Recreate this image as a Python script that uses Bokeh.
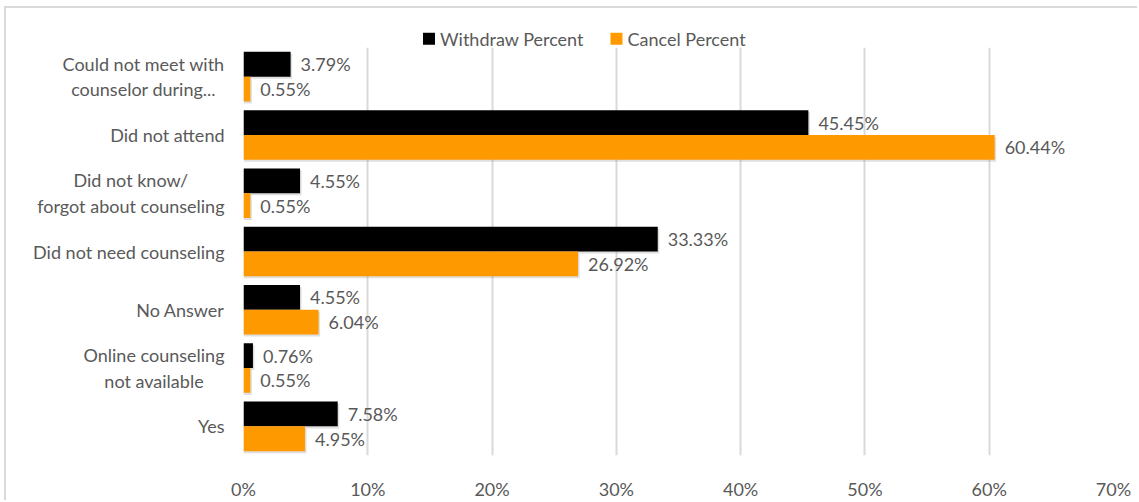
from bokeh.plotting import figure
from bokeh.models import (FactorRange, Range1d, ColumnDataSource, FixedTicker,
                          PrintfTickFormatter)
from bokeh.transform import dodge
from bokeh.core.properties import value
from bokeh.embed import file_html
from bokeh.resources import INLINE

categories = [
    "Could not meet with\ncounselor during...",
    "Did not attend",
    "Did not know/\nforgot about counseling",
    "Did not need counseling",
    "No Answer",
    "Online counseling\nnot available",
    "Yes",
]
withdraw = [3.79, 45.45, 4.55, 33.33, 4.55, 0.76, 7.58]
cancel = [0.55, 60.44, 0.55, 26.92, 6.04, 0.55, 4.95]
x_ticks = [0, 10, 20, 30, 40, 50, 60, 70]
series_names = ["Withdraw Percent", "Cancel Percent"]
colors = ["#000000", "#ff9900"]

FONT = "Lato"
TXT = "#595959"
FS = "18px"

src = ColumnDataSource(dict(
    cat=categories,
    zero=[0] * len(categories),
    withdraw=withdraw,
    cancel=cancel,
    wlabel=[f"{v:.2f}%" for v in withdraw],
    clabel=[f"{v:.2f}%" for v in cancel],
))

FRAME_W, FRAME_H = 870, 420
p = figure(
    width=1133, height=494,
    y_range=FactorRange(factors=list(reversed(categories))),
    x_range=Range1d(x_ticks[0], x_ticks[-1]),
    output_backend="svg", toolbar_location=None,
    min_border_left=237, min_border_right=26, min_border_top=39, min_border_bottom=35,
    margin=(6, 0, 0, 4),
)
p.styles = {"border-left": "2px solid #d9d9d9", "border-top": "2px solid #d9d9d9"}
p.outline_line_color = None
p.background_fill_color = "white"
p.border_fill_color = "white"

bw = 0.425
off = bw / 2
# soft drop shadow (style offsets only)
sx, sy = 0.12, 0.035
p.hbar(y=dodge("cat", off - sy, range=p.y_range), left=0, right=dodge("withdraw", sx),
       height=bw, fill_color="#7f7f7f", fill_alpha=0.25, line_color=None, source=src)
r1 = p.hbar(y=dodge("cat", off, range=p.y_range), left=0, right="withdraw", height=bw,
            fill_color=colors[0], line_color=None, source=src)
p.hbar(y=dodge("cat", -off - sy, range=p.y_range), left=0, right=dodge("cancel", sx),
       height=bw, fill_color="#7f7f7f", fill_alpha=0.25, line_color=None, source=src)
r2 = p.hbar(y=dodge("cat", -off, range=p.y_range), left=0, right="cancel", height=bw,
            fill_color=colors[1], line_color=None, source=src)

p.text(x="withdraw", y=dodge("cat", off, range=p.y_range), text="wlabel", x_offset=10,
       text_baseline="middle", text_font=value(FONT), text_font_size=FS,
       text_color=TXT, source=src)
p.text(x="cancel", y=dodge("cat", -off, range=p.y_range), text="clabel", x_offset=10,
       text_baseline="middle", text_font=value(FONT), text_font_size=FS,
       text_color=TXT, source=src)

# category labels: right-anchored boxes with centred lines (as in the original)
p.text(x="zero", y="cat", text="cat", x_offset=-19,
       anchor="center_right", text_align="center", text_baseline="middle",
       text_font=value(FONT), text_font_size=FS, text_color=TXT,
       text_line_height=1.16, source=src, level="overlay")
p.yaxis.visible = False

p.xaxis.ticker = FixedTicker(ticks=x_ticks)
p.xaxis.formatter = PrintfTickFormatter(format="%d%%")
p.xaxis.axis_line_color = None
p.xaxis.major_tick_line_color = None
p.xaxis.minor_tick_line_color = None
p.xaxis.major_label_text_font = FONT
p.xaxis.major_label_text_font_size = FS
p.xaxis.major_label_text_color = TXT
p.xaxis.major_label_standoff = 16

p.xgrid.grid_line_color = "#d9d9d9"
p.xgrid.grid_line_width = 2
p.ygrid.grid_line_color = None

# legend above the plot area (drawn as overlay glyphs so it is not clipped)
px_per_x = FRAME_W / (x_ticks[-1] - x_ticks[0])
px_per_band = FRAME_H / len(categories)
leg_src = ColumnDataSource(dict(
    cat=[categories[0]] * 2,
    x=[185.5 / px_per_x, 373.0 / px_per_x],
    name=series_names,
    color=colors,
))
leg_y = dodge("cat", 0.5 + 9.0 / px_per_band, range=p.y_range)
p.scatter(x="x", y=leg_y, marker="square", size=12, fill_color="color", line_color=None,
          source=leg_src, level="overlay")
p.text(x="x", y=leg_y, text="name", x_offset=11, text_baseline="middle",
       text_font=value(FONT), text_font_size=FS, text_color=TXT,
       source=leg_src, level="overlay")

open("out.html", "w").write(file_html(p, INLINE))
